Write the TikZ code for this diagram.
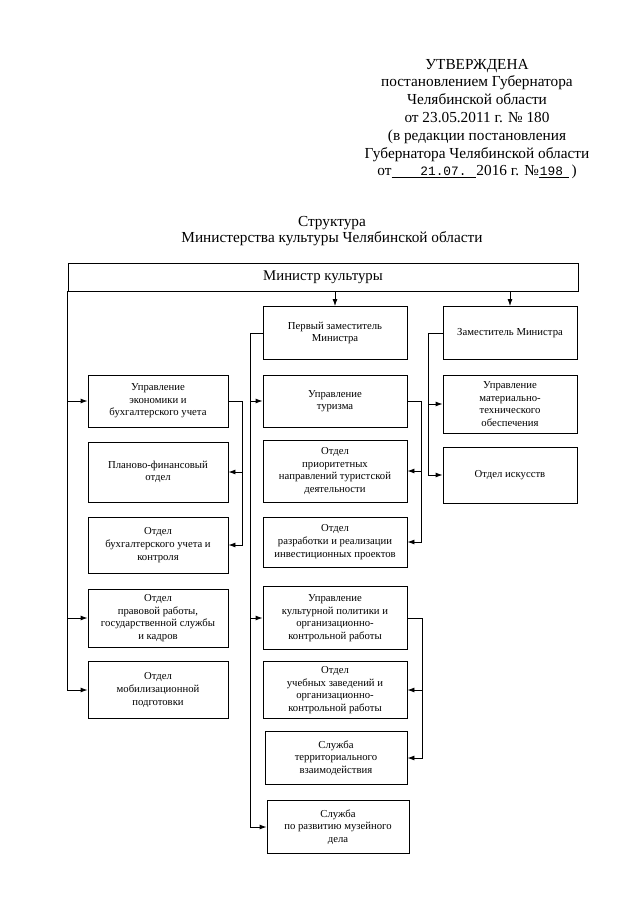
\documentclass[tikz,border=0pt]{standalone}
\usepackage{fontspec}
\setmainfont{Liberation Serif}
\newfontfamily\monof{Liberation Mono}
\usetikzlibrary{arrows.meta}

\begin{document}
\begin{tikzpicture}[x=1pt,y=-1pt,
  >={Latex[length=7pt,width=5pt]},
  every path/.style={line width=0.9pt},
  blk/.style={draw,align=center,inner sep=1pt,
    font=\fontsize{10.7}{12.6}\selectfont},
  lcol/.style={blk,minimum width=140pt},
  mcol/.style={blk,minimum width=144pt},
  rcol/.style={blk,minimum width=134pt}]
\useasboundingbox (0,0) rectangle (640,905);

% header
\node[align=center,font=\fontsize{15.3}{17.8}\selectfont] (hdr) at (477,119)
  {УТВЕРЖДЕНА\\
   постановлением Губернатора\\
   Челябинской области\\
   от 23.05.2011 г. № 180\\
   (в редакции постановления\\
   Губернатора Челябинской области\\
   от\underline{\makebox[85pt][r]{\monof\fontsize{12.8}{17.8}\selectfont 21.07.\hspace{10pt}}}2016 г. №\underline{\makebox[30pt][l]{\monof\fontsize{12.8}{17.8}\selectfont\hspace{1pt}198}}\,)};
\node[align=center,font=\fontsize{15.3}{16}\selectfont] (ttl) at (332,231)
  {Структура\\Министерства культуры Челябинской области};

% minister
\node[draw,minimum width=510pt,minimum height=28pt,inner sep=0pt,
  font=\fontsize{14.8}{15}\selectfont] (top) at (323,277) {Министр культуры};

% deputies
\node[mcol,minimum height=53pt] (fd) at (335,333) {Первый заместитель\\Министра};
\node[rcol,minimum height=53pt] (dm) at (510,333) {Заместитель Министра};

% left column
\node[lcol,minimum height=52pt] (lb1) at (158,401) {Управление\\экономики и\\бухгалтерского учета};
\node[lcol,minimum height=60pt] (lb2) at (158,472) {Планово-финансовый\\отдел};
\node[lcol,minimum height=56pt] (lb3) at (158,545) {Отдел\\бухгалтерского учета и\\контроля};
\node[lcol,minimum height=58pt] (lb4) at (158,618) {Отдел\\правовой работы,\\государственной службы\\и кадров};
\node[lcol,minimum height=57pt] (lb5) at (158,690) {Отдел\\мобилизационной\\подготовки};

% middle column
\node[mcol,minimum height=52pt] (mb1) at (335,401) {Управление\\туризма};
\node[mcol,minimum height=62pt] (mb2) at (335,471) {Отдел\\приоритетных\\направлений туристской\\деятельности};
\node[mcol,minimum height=50pt] (mb3) at (335,542) {Отдел\\разработки и реализации\\инвестиционных проектов};
\node[mcol,minimum height=63pt] (mb4) at (335,618) {Управление\\культурной политики и\\организационно-\\контрольной работы};
\node[mcol,minimum height=57pt] (mb5) at (335,690) {Отдел\\учебных заведений и\\организационно-\\контрольной работы};
\node[blk,minimum width=142pt,minimum height=53pt] (mb6) at (336,758) {Служба\\территориального\\взаимодействия};
\node[blk,minimum width=142pt,minimum height=53pt] (mb7) at (338,827) {Служба\\по развитию музейного\\дела};

% right column
\node[rcol,minimum height=58pt] (rb1) at (510,404) {Управление\\материально-\\технического\\обеспечения};
\node[rcol,minimum height=56pt] (rb2) at (510,475) {Отдел искусств};

% minister -> ...
\draw[->] (fd.north |- top.south) -- (fd.north);
\draw[->] (dm.north |- top.south) -- (dm.north);
\draw[->] (top.south west) |- (lb1.west);
\draw[->] (top.south west) |- (lb4.west);
\draw[->] (top.south west) |- (lb5.west);

% first deputy
\draw (fd.west) -- ++(-12,0) coordinate (fdb);
\draw[->] (fdb) |- (mb1.west);
\draw[->] (fdb) |- (mb4.west);
\draw[->] (fdb) |- (mb7.west);

% deputy
\draw (dm.west) -- ++(-14,0) coordinate (dmb);
\draw[->] (dmb) |- (rb1.west);
\draw[->] (dmb) |- (rb2.west);

% sub-units
\draw (lb1.east) -- ++(14,0) coordinate (lb1b);
\draw[->] (lb1b) |- (lb2.east);
\draw[->] (lb1b) |- (lb3.east);
\draw (mb1.east) -- ++(14,0) coordinate (mb1b);
\draw[->] (mb1b) |- (mb2.east);
\draw[->] (mb1b) |- (mb3.east);
\draw (mb4.east) -- ++(15,0) coordinate (mb4b);
\draw[->] (mb4b) |- (mb5.east);
\draw[->] (mb4b) |- (mb6.east);
%\draw[->] (mb4b) |- (mb7.east);
\end{tikzpicture}
\end{document}
